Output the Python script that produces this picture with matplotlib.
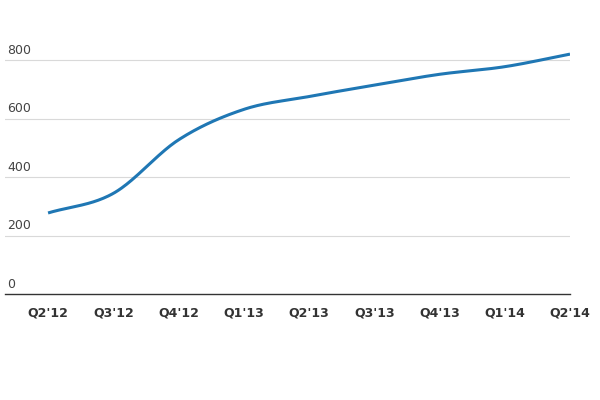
import matplotlib
matplotlib.use("Agg")
import matplotlib.pyplot as plt
import numpy as np

# Data
quarters = ["Q2'12", "Q3'12", "Q4'12", "Q1'13", "Q2'13", "Q3'13", "Q4'13", "Q1'14", "Q2'14"]
values = [278, 345, 528, 632, 676, 715, 752, 778, 821]
y_ticks = [0, 200, 400, 600, 800]


def smooth_line(x, y, n=40):
    # Catmull-Rom style cubic Hermite curve through the points (drawing only)
    x = np.asarray(x, dtype=float)
    y = np.asarray(y, dtype=float)
    m = np.gradient(y, x)
    xs, ys = [], []
    for i in range(len(x) - 1):
        h = x[i + 1] - x[i]
        t = np.linspace(0, 1, n)
        h00 = 2 * t**3 - 3 * t**2 + 1
        h10 = t**3 - 2 * t**2 + t
        h01 = -2 * t**3 + 3 * t**2
        h11 = t**3 - t**2
        xs.append(x[i] + t * h)
        ys.append(h00 * y[i] + h10 * h * m[i] + h01 * y[i + 1] + h11 * h * m[i + 1])
    return np.concatenate(xs), np.concatenate(ys)


fig = plt.figure(figsize=(6, 4), dpi=100)
ax = fig.add_axes([5 / 600, 105.7 / 400, 565 / 600, 0.9225 - 105.7 / 400])

x = np.arange(len(quarters))
sx, sy = smooth_line(x, values)
ax.plot(sx, sy, color="#1f77b4", linewidth=2.2, solid_capstyle="butt", zorder=3)

ax.set_xlim(-0.66, len(quarters) - 1)
ax.set_ylim(0, 900)

# gridlines
for v in y_ticks[1:]:
    ax.axhline(v, color="#d9d9d9", linewidth=0.8, zorder=1)

for s in ["top", "right", "left"]:
    ax.spines[s].set_visible(False)
ax.spines["bottom"].set_color("#333333")
ax.spines["bottom"].set_linewidth(1.0)

ax.set_yticks([])
ax.set_xticks(x)
ax.set_xticklabels(quarters, fontweight="bold", fontsize=9, color="#333333")
ax.tick_params(axis="x", length=0, pad=9)

# y labels sit above their gridline at the left edge
for v in y_ticks:
    ax.text(0.004, v + 34, str(v), transform=ax.get_yaxis_transform(),
            ha="left", va="center", fontsize=9, color="#444444")

fig.savefig("out.png", dpi=100)
